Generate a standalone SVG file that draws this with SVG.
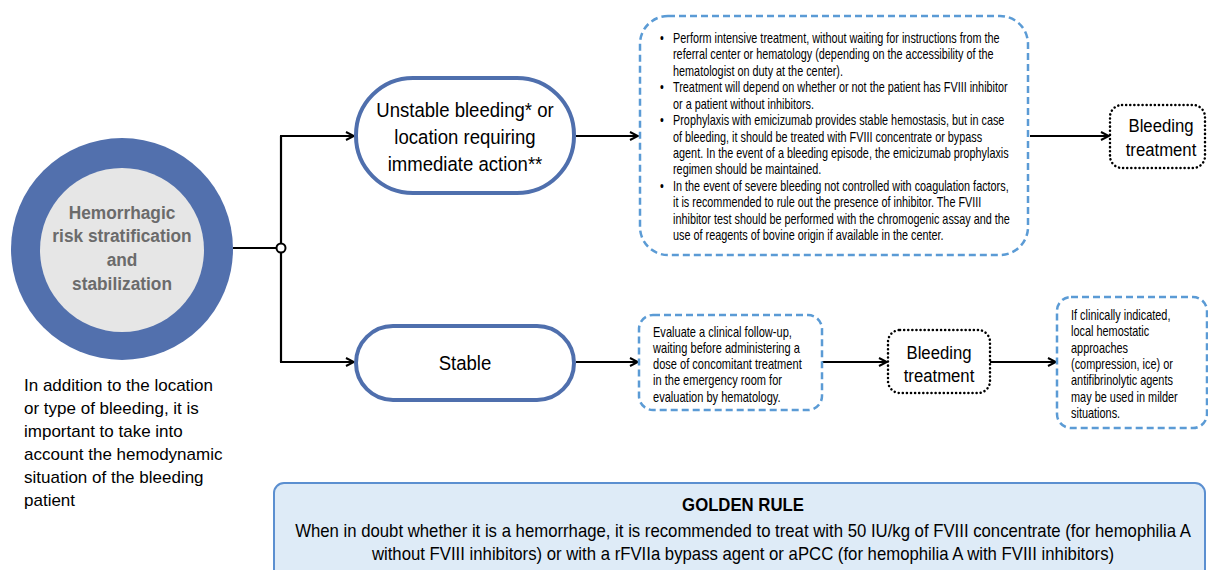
<svg xmlns="http://www.w3.org/2000/svg" width="1208" height="570" viewBox="0 0 1208 570">
<defs>
<marker id="arr" viewBox="0 0 10 10" refX="9" refY="5" markerWidth="10" markerHeight="10" markerUnits="userSpaceOnUse" orient="auto">
<path d="M1,1 L9,5 L1,9" fill="none" stroke="#000" stroke-width="2"/>
</marker>
<style>
.t{font-family:"Liberation Sans",Arial,sans-serif;fill:#000}
.pill{fill:#fff;stroke:#4f6fad;stroke-width:4}
.dash{fill:#fff;stroke:#5b9bd5;stroke-width:2.5;stroke-dasharray:7 4}
.dot{fill:#fff;stroke:#000;stroke-width:2.5;stroke-dasharray:0.1 4;stroke-linecap:round}
.c{fill:none;stroke:#000;stroke-width:2.2}
.sm{font-size:14px}
.bs{font-size:14.5px}
.md{font-size:19px}
</style>
</defs>
<rect width="1208" height="570" fill="#fff"/>
<g id="connectors">
<line class="c" x1="233" y1="248" x2="277" y2="248"/>
<line class="c" x1="281" y1="136" x2="281" y2="362"/>
<line class="c" x1="280" y1="136" x2="354" y2="136" marker-end="url(#arr)"/>
<line class="c" x1="280" y1="362" x2="354" y2="362" marker-end="url(#arr)"/>
<line class="c" x1="576" y1="136" x2="638" y2="136" marker-end="url(#arr)"/>
<line class="c" x1="576" y1="362" x2="638" y2="362" marker-end="url(#arr)"/>
<line class="c" x1="1030" y1="136" x2="1109" y2="136" marker-end="url(#arr)"/>
<line class="c" x1="822" y1="362" x2="887" y2="362" marker-end="url(#arr)"/>
<line class="c" x1="990" y1="362" x2="1056" y2="362" marker-end="url(#arr)"/>
<circle cx="281" cy="248" r="4.5" fill="#fff" stroke="#000" stroke-width="2"/>
</g>
<g id="start">
<circle cx="122" cy="249" r="111" fill="#5270ad"/>
<circle cx="122" cy="250" r="82" fill="#e6e6e6"/>
<g transform="translate(122,0) scale(0.91,1)" font-family="'Liberation Sans',Arial,sans-serif" font-weight="bold" font-size="19" fill="#6b6b6b" text-anchor="middle">
<text x="0" y="219">Hemorrhagic</text>
<text x="0" y="242">risk stratification</text>
<text x="0" y="266">and</text>
<text x="0" y="290">stabilization</text>
</g>
</g>
<g id="note">
<g class="t" font-size="17">
<text x="24" y="391">In addition to the location</text>
<text x="24" y="414">or type of bleeding, it is</text>
<text x="24" y="437">important to take into</text>
<text x="24" y="460">account the hemodynamic</text>
<text x="24" y="483">situation of the bleeding</text>
<text x="24" y="506">patient</text>
</g>
</g>
<g id="unstable">
<rect class="pill" x="356" y="78" width="218" height="115" rx="57"/>
<g transform="translate(465,0) scale(0.905,1)" text-anchor="middle">
<text class="t" font-size="20.5" x="0" y="117">Unstable bleeding* or</text>
<text class="t" font-size="20.5" x="0" y="144">location requiring</text>
<text class="t" font-size="20.5" x="0" y="171">immediate action**</text>
</g>
</g>
<g id="stable">
<rect class="pill" x="356" y="326" width="218" height="74" rx="37"/>
<g transform="translate(465,0) scale(0.905,1)" text-anchor="middle">
<text class="t" font-size="20.5" x="0" y="370">Stable</text>
</g>
</g>
<g id="urgent">
<rect class="dash" x="640" y="16" width="388" height="239" rx="28"/>
<g transform="translate(660,0) scale(0.748,1)">
<g class="t bs">
<text x="0" y="43">•</text>
<text x="0" y="92">•</text>
<text x="0" y="125">•</text>
<text x="0" y="191">•</text>
</g>
<g class="t bs" transform="translate(17.4,0)">
<text x="0" y="43">Perform intensive treatment, without waiting for instructions from the</text>
<text x="0" y="59">referral center or hematology (depending on the accessibility of the</text>
<text x="0" y="76">hematologist on duty at the center).</text>
<text x="0" y="92">Treatment will depend on whether or not the patient has FVIII inhibitor</text>
<text x="0" y="109">or a patient without inhibitors.</text>
<text x="0" y="125">Prophylaxis with emicizumab provides stable hemostasis, but in case</text>
<text x="0" y="142">of bleeding, it should be treated with FVIII concentrate or bypass</text>
<text x="0" y="158">agent. In the event of a bleeding episode, the emicizumab prophylaxis</text>
<text x="0" y="174">regimen should be maintained.</text>
<text x="0" y="191">In the event of severe bleeding not controlled with coagulation factors,</text>
<text x="0" y="207">it is recommended to rule out the presence of inhibitor. The FVIII</text>
<text x="0" y="224">inhibitor test should be performed with the chromogenic assay and the</text>
<text x="0" y="240">use of reagents of bovine origin if available in the center.</text>
</g>
</g>
</g>
<g id="treat1">
<rect class="dot" x="1110" y="105" width="95" height="63" rx="12"/>
<g transform="translate(1161,0) scale(0.88,1)" text-anchor="middle">
<text class="t md" x="0" y="132">Bleeding</text>
<text class="t md" x="0" y="156">treatment</text>
</g>
</g>
<g id="evaluate">
<rect class="dash" x="639" y="315" width="183" height="95" rx="14"/>
<g transform="translate(653,0) scale(0.79,1)" class="t sm">
<text x="0" y="337">Evaluate a clinical follow-up,</text>
<text x="0" y="353">waiting before administering a</text>
<text x="0" y="369">dose of concomitant treatment</text>
<text x="0" y="385">in the emergency room for</text>
<text x="0" y="402">evaluation by hematology.</text>
</g>
</g>
<g id="treat2">
<rect class="dot" x="888" y="330" width="102" height="63" rx="12"/>
<g transform="translate(939,0) scale(0.88,1)" text-anchor="middle">
<text class="t md" x="0" y="359">Bleeding</text>
<text class="t md" x="0" y="382">treatment</text>
</g>
</g>
<g id="local">
<rect class="dash" x="1057" y="297" width="150" height="131" rx="14"/>
<g transform="translate(1071,0) scale(0.78,1)" class="t sm">
<text x="0" y="320">If clinically indicated,</text>
<text x="0" y="336">local hemostatic</text>
<text x="0" y="353">approaches</text>
<text x="0" y="369">(compression, ice) or</text>
<text x="0" y="385">antifibrinolytic agents</text>
<text x="0" y="402">may be used in milder</text>
<text x="0" y="418">situations.</text>
</g>
</g>
<g id="golden">
<rect x="274" y="483" width="931" height="100" rx="10" fill="#deebf7" stroke="#5b8fd0" stroke-width="2"/>
<g transform="translate(743,0) scale(0.93,1)" text-anchor="middle">
<text class="t" font-size="18" font-weight="bold" x="0" y="511">GOLDEN RULE</text>
<text class="t" font-size="18" x="0" y="537">When in doubt whether it is a hemorrhage, it is recommended to treat with 50 IU/kg of FVIII concentrate (for hemophilia A</text>
<text class="t" font-size="18" x="0" y="560">without FVIII inhibitors) or with a rFVIIa bypass agent or aPCC (for hemophilia A with FVIII inhibitors)</text>
</g>
</g>
</svg>
